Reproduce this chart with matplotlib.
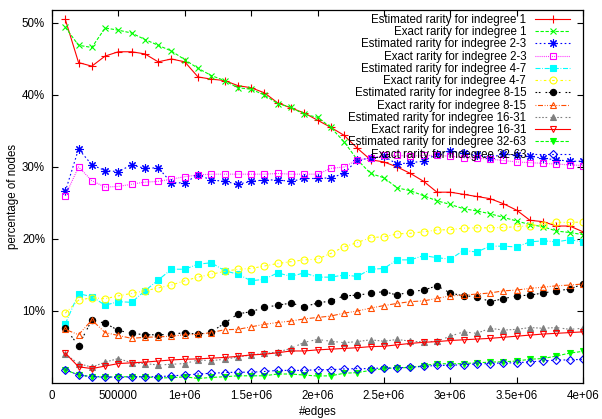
import matplotlib
matplotlib.use("Agg")
import matplotlib.pyplot as plt
from matplotlib.ticker import FuncFormatter

edges = [100000, 200000, 300000, 400000, 500000, 600000, 700000, 800000, 900000, 1000000,
         1100000, 1200000, 1300000, 1400000, 1500000, 1600000, 1700000, 1800000, 1900000, 2000000,
         2100000, 2200000, 2300000, 2400000, 2500000, 2600000, 2700000, 2800000, 2900000, 3000000,
         3100000, 3200000, 3300000, 3400000, 3500000, 3600000, 3700000, 3800000, 3900000, 4000000]

est_1 = [50.5, 44.5, 44.0, 45.4, 46.0, 46.0, 45.7, 44.6, 45.0, 44.6,
         42.5, 42.2, 42.0, 41.3, 41.0, 40.3, 38.9, 38.2, 37.5, 36.5,
         35.5, 34.4, 32.6, 31.0, 30.7, 30.0, 29.1, 28.0, 26.5, 26.5,
         26.2, 25.9, 25.6, 24.9, 24.0, 22.6, 22.4, 21.8, 21.8, 21.0]
exact_1 = [49.4, 46.9, 46.6, 49.3, 49.0, 48.6, 47.7, 46.9, 46.1, 44.9,
           43.7, 42.7, 42.0, 41.0, 40.8, 40.0, 38.8, 38.3, 37.3, 36.9,
           35.5, 33.5, 31.0, 29.1, 28.5, 27.1, 26.7, 26.0, 25.3, 24.8,
           24.2, 23.9, 23.5, 23.0, 22.5, 22.0, 21.7, 21.1, 20.9, 20.6]
est_2_3 = [26.6, 32.5, 30.3, 29.5, 29.35, 30.3, 29.8, 29.9, 27.8, 27.8,
           28.9, 28.2, 28.0, 27.6, 28.0, 28.2, 28.2, 28.0, 28.4, 28.4,
           28.5, 29.1, 31.0, 31.2, 31.5, 30.4, 30.6, 30.8, 31.8, 32.2,
           31.9, 31.6, 31.3, 31.8, 31.6, 31.5, 31.2, 31.0, 30.8, 30.8]
exact_2_3 = [26.0, 30.0, 28.1, 27.2, 27.3, 27.6, 27.9, 28.0, 28.3, 28.65,
             28.9, 29.0, 29.0, 29.0, 29.0, 29.0, 29.1, 29.0, 29.0, 29.0,
             29.8, 30.0, 31.0, 31.2, 31.6, 31.6, 31.5, 31.6, 31.6, 31.5,
             31.3, 31.2, 31.1, 30.9, 30.7, 30.6, 30.5, 30.4, 30.3, 30.2]
est_4_7 = [8.2, 12.4, 12.0, 10.8, 11.3, 11.2, 12.8, 14.3, 15.8, 15.8,
           16.5, 16.7, 15.6, 15.1, 14.2, 14.4, 15.3, 14.8, 15.3, 14.7,
           14.7, 15.0, 14.8, 15.8, 15.9, 17.1, 17.1, 17.7, 17.4, 17.2,
           18.4, 18.2, 19.0, 19.0, 18.9, 19.6, 19.75, 19.6, 19.9, 19.6]
exact_4_7 = [9.7, 11.5, 11.85, 11.7, 12.1, 12.45, 12.8, 13.2, 13.6, 14.2,
             14.7, 15.1, 15.5, 15.8, 15.9, 16.25, 16.6, 16.85, 17.1, 17.2,
             18.0, 18.9, 19.5, 20.2, 20.3, 20.7, 20.8, 21.0, 21.25, 21.3,
             21.5, 21.55, 21.55, 21.6, 21.7, 21.85, 22.0, 22.3, 22.3, 22.35]
est_8_15 = [7.6, 5.2, 8.75, 8.3, 7.3, 6.9, 6.7, 6.7, 6.75, 7.0,
            6.75, 7.1, 8.3, 9.6, 9.9, 10.5, 10.8, 11.1, 10.6, 11.1,
            11.4, 12.1, 12.2, 12.45, 12.7, 12.2, 12.7, 12.9, 13.5, 12.5,
            12.1, 12.0, 11.3, 11.7, 12.1, 12.2, 12.5, 12.8, 13.05, 13.75]
exact_8_15 = [7.45, 6.7, 8.75, 7.0, 6.6, 6.2, 6.35, 6.4, 6.5, 6.7,
              6.75, 7.0, 7.4, 7.45, 7.8, 8.15, 8.4, 8.6, 8.9, 9.1,
              9.3, 9.7, 10.0, 10.4, 10.75, 11.05, 11.3, 11.4, 11.75, 12.1,
              12.2, 12.35, 12.5, 12.8, 12.9, 13.15, 13.3, 13.5, 13.6, 13.75]
est_16_31 = [4.0, 2.7, 2.2, 2.9, 3.4, 2.8, 2.7, 2.5, 2.6, 2.7,
             3.2, 3.1, 3.3, 3.6, 3.9, 4.1, 4.3, 4.8, 5.65, 6.05,
             5.8, 5.6, 5.75, 6.0, 5.8, 6.05, 5.8, 5.7, 5.8, 6.5,
             7.1, 6.9, 7.6, 7.35, 7.45, 7.7, 7.6, 7.7, 7.45, 7.6]
exact_16_31 = [4.15, 2.25, 2.0, 2.35, 2.7, 2.8, 2.9, 3.05, 3.2, 3.3,
               3.35, 3.45, 3.55, 3.7, 3.9, 4.0, 4.2, 4.45, 4.45, 4.6,
               4.7, 4.8, 4.9, 5.05, 5.1, 5.3, 5.5, 5.65, 5.75, 5.9,
               6.0, 6.1, 6.2, 6.35, 6.5, 6.65, 6.8, 6.9, 7.0, 7.1]
est_32_63 = [1.85, 1.1, 0.9, 0.8, 0.87, 0.87, 0.87, 0.72, 0.72, 0.87,
             0.63, 0.77, 0.87, 1.0, 1.0, 1.0, 1.25, 1.25, 1.1, 0.97,
             1.0, 1.35, 1.45, 1.75, 2.0, 2.1, 2.15, 2.4, 2.7, 2.65,
             2.7, 2.8, 2.9, 2.95, 3.05, 3.3, 3.4, 3.75, 4.15, 4.4]
exact_32_63 = [1.85, 1.1, 0.87, 0.87, 0.77, 0.87, 0.87, 0.87, 1.0, 1.1,
               1.25, 1.35, 1.45, 1.5, 1.5, 1.6, 1.75, 1.75, 1.75, 1.85,
               1.85, 1.95, 2.0, 2.0, 2.1, 2.1, 2.2, 2.3, 2.45, 2.45,
               2.55, 2.65, 2.7, 2.8, 2.8, 2.95, 3.05, 3.2, 3.2, 3.3]

labels = ["Estimated rarity for indegree 1", "Exact rarity for indegree 1",
          "Estimated rarity for indegree 2-3", "Exact rarity for indegree 2-3",
          "Estimated rarity for indegree 4-7", "Exact rarity for indegree 4-7",
          "Estimated rarity for indegree 8-15", "Exact rarity for indegree 8-15",
          "Estimated rarity for indegree 16-31", "Exact rarity for indegree 16-31",
          "Estimated rarity for indegree 32-63", "Exact rarity for indegree 32-63"]
series = [est_1, exact_1, est_2_3, exact_2_3, est_4_7, exact_4_7,
          est_8_15, exact_8_15, est_16_31, exact_16_31, est_32_63, exact_32_63]

xticks = [0, 500000, 1000000, 1500000, 2000000, 2500000, 3000000, 3500000, 4000000]
xticklabels = ["0", "500000", "1e+06", "1.5e+06", "2e+06", "2.5e+06", "3e+06", "3.5e+06", "4e+06"]
yticks = [10, 20, 30, 40, 50]

u = 0.75
styles = [
    dict(color="#ff0000", ls="-", marker="+", ms=6, mfc="none"),
    dict(color="#00ff00", ls=(0, (4 * u, 2 * u)), marker="x", ms=5, mfc="none"),
    dict(color="#0000ff", ls=(0, (2 * u, 3 * u)), marker=(8, 2, 0), ms=6, mfc="none"),
    dict(color="#ff00ff", ls=(0, (1 * u, 1.5 * u)), marker="s", ms=5, mfc="none"),
    dict(color="#00ffff", ls=(0, (6 * u, 2 * u, 1 * u, 2 * u)), marker="s", ms=5, mfc="#00ffff"),
    dict(color="#ffff00", ls=(0, (3 * u, 3 * u, 1 * u, 3 * u)), marker="o", ms=5, mfc="none"),
    dict(color="#000000", ls=(0, (2 * u, 2 * u, 2 * u, 6 * u)), marker="o", ms=4.5, mfc="#000000"),
    dict(color="#ff4d00", ls=(0, (1 * u, 2 * u, 6 * u, 2 * u, 1 * u, 2 * u)), marker="^", ms=5, mfc="none"),
    dict(color="#808080", ls=(0, (2 * u, 2 * u, 2 * u, 2 * u, 2 * u, 2 * u, 2 * u, 4 * u)), marker="^", ms=4, mfc="#808080"),
    dict(color="#ff0000", ls="-", marker="v", ms=5, mfc="none"),
    dict(color="#00ff00", ls=(0, (4 * u, 2 * u)), marker="v", ms=4, mfc="#00ff00"),
    dict(color="#0000ff", ls=(0, (2 * u, 3 * u)), marker="D", ms=4, mfc="none"),
]

plt.rcParams["font.family"] = ["Liberation Sans", "DejaVu Sans"]
plt.rcParams["font.size"] = 8.3

fig = plt.figure(figsize=(6.02, 4.19), dpi=100)
ax = fig.add_axes([52 / 602, 1 - 383 / 419, (583 - 52) / 602, (383 - 10) / 419])

for vals, lab, st in zip(series, labels, styles):
    ax.plot(edges, vals, label=lab, color=st["color"], linestyle=st["ls"], linewidth=0.8,
            marker=st["marker"], markersize=st["ms"], markerfacecolor=st["mfc"],
            markeredgecolor=st["color"], markeredgewidth=0.8)

ax.set_xlim(0, 4000000)
ax.set_ylim(0, 51.8)
ax.set_xticks(xticks)
ax.set_xticklabels(xticklabels)
ax.set_yticks(yticks)
ax.yaxis.set_major_formatter(FuncFormatter(lambda v, p: "%d%%" % v))
ax.tick_params(direction="in", length=4.5, width=0.8, top=True, right=True, pad=5, colors="black")
for sp in ax.spines.values():
    sp.set_linewidth(0.9)
ax.set_xlabel("#edges", labelpad=3)
ax.set_ylabel("percentage of nodes", labelpad=2)

leg = ax.legend(loc="upper right", bbox_to_anchor=(570 / 602, 1 - 14 / 419),
                bbox_transform=fig.transFigure, frameon=False, markerfirst=False,
                borderpad=0, borderaxespad=0, handlelength=3.0, handletextpad=0.8,
                labelspacing=0.02, fontsize=8.3)

fig.savefig("out.png", dpi=100)
